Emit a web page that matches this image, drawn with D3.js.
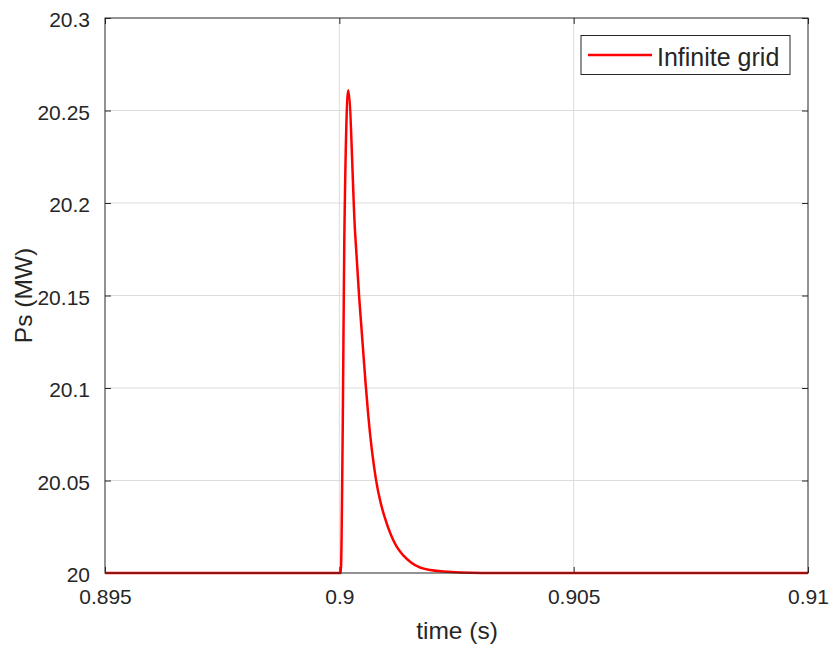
<!DOCTYPE html>
<html><head><meta charset="utf-8">
<script src="https://cdn.jsdelivr.net/npm/d3@7"></script>
<style>body{margin:0;background:#fff;}svg{display:block;font-family:"Liberation Sans",Arial,sans-serif;}</style>
</head><body><svg id="chart" width="834" height="650"></svg>
<script>
const timeVals = [0.895, 0.9, 0.90003, 0.900072, 0.900106, 0.900191, 0.900334, 0.900426, 0.900562, 0.900618, 0.900782, 0.900883, 0.900996, 0.901224, 0.901365, 0.901544, 0.901935, 0.902575, 0.9035, 0.91];
const powerVals = [20, 20, 20, 20.077, 20.180, 20.261, 20.185, 20.148, 20.102, 20.085, 20.0505, 20.0378, 20.0279, 20.0142, 20.0095, 20.0054, 20.0016, 20.0003, 20, 20];
const xTicks = [0.895, 0.9, 0.905, 0.91];
const xTickLabels = ["0.895", "0.9", "0.905", "0.91"];
const yTicks = [20, 20.05, 20.1, 20.15, 20.2, 20.25, 20.3];
const yTickLabels = ["20", "20.05", "20.1", "20.15", "20.2", "20.25", "20.3"];
const seriesName = "Infinite grid";

const L = 105, R = 808, T = 18, B = 573;
const svg = d3.select("#chart");
const x = d3.scaleLinear().domain([0.895, 0.91]).range([L, R]);
const y = d3.scaleLinear().domain([20, 20.3]).range([B, T]);

// grid
svg.append("g").selectAll("line").data(xTicks.slice(1, -1)).join("line")
  .attr("x1", d => x(d)).attr("x2", d => x(d)).attr("y1", T).attr("y2", B)
  .attr("stroke", "#dcdcdc").attr("stroke-width", 1);
svg.append("g").selectAll("line").data(yTicks.slice(1, -1)).join("line")
  .attr("y1", d => y(d)).attr("y2", d => y(d)).attr("x1", L).attr("x2", R)
  .attr("stroke", "#dcdcdc").attr("stroke-width", 1);

// axes
const xAxis = d3.axisBottom(x).tickValues(xTicks).tickFormat((d, i) => xTickLabels[i]).tickSizeInner(-6).tickSizeOuter(0).tickPadding(16);
const yAxis = d3.axisLeft(y).tickValues(yTicks).tickFormat((d, i) => yTickLabels[i]).tickSizeInner(-6).tickSizeOuter(0).tickPadding(15);
const gx = svg.append("g").attr("transform", `translate(0,${B})`).call(xAxis);
const gy = svg.append("g").attr("transform", `translate(${L},0)`).call(yAxis);
const gxt = svg.append("g").attr("transform", `translate(0,${T})`).call(d3.axisTop(x).tickValues(xTicks).tickFormat("").tickSizeInner(-6).tickSizeOuter(0));
const gyr = svg.append("g").attr("transform", `translate(${R},0)`).call(d3.axisRight(y).tickValues(yTicks).tickFormat("").tickSizeInner(-6).tickSizeOuter(0));
[gx, gy, gxt, gyr].forEach(g => {
  g.select(".domain").remove();
  g.selectAll("line").attr("stroke", "#262626");
  g.selectAll("text").attr("fill", "#262626").style("font-size", "21px").attr("font-family", "Liberation Sans, Arial, sans-serif");
});
gx.selectAll("text").attr("dy", "0.71em");
gy.selectAll("text").attr("dy", "0.42em");

// line
const line = d3.line().x((d, i) => x(timeVals[i])).y((d, i) => y(powerVals[i])).curve(d3.curveMonotoneX);
svg.append("path").datum(powerVals).attr("d", line)
  .attr("fill", "none").attr("stroke", "#ff0000").attr("stroke-width", 2.5).attr("stroke-linejoin", "round");

// box
svg.append("rect").attr("x", L).attr("y", T).attr("width", R - L).attr("height", B - T)
  .attr("fill", "none").attr("stroke", "#262626").attr("stroke-width", 1);

// labels
svg.append("text").attr("x", 457).attr("y", 639).attr("text-anchor", "middle")
  .attr("fill", "#262626").style("font-size", "24.5px").text("time (s)");
svg.append("text").attr("transform", `translate(32,${(T + B) / 2}) rotate(-90)`).attr("text-anchor", "middle")
  .attr("fill", "#262626").style("font-size", "24.5px").text("Ps (MW)");

// legend
const lg = svg.append("g");
lg.append("rect").attr("x", 581).attr("y", 35.5).attr("width", 209).attr("height", 39)
  .attr("fill", "#fff").attr("stroke", "#262626").attr("stroke-width", 1);
lg.append("line").attr("x1", 588).attr("x2", 652).attr("y1", 55).attr("y2", 55)
  .attr("stroke", "#ff0000").attr("stroke-width", 2.5);
lg.append("text").attr("x", 657).attr("y", 66)
  .attr("fill", "#262626").style("font-size", "25px").text(seriesName);
</script></body></html>
